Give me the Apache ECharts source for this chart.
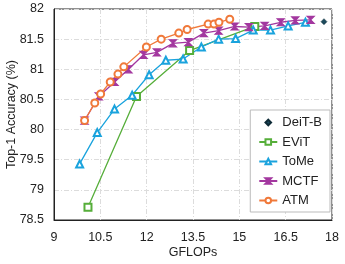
<!DOCTYPE html>
<html><head><meta charset="utf-8">
<script src="https://cdn.jsdelivr.net/npm/echarts@6/dist/echarts.min.js"></script>
<style>html,body{margin:0;padding:0;background:#fff}#c{width:345px;height:264px}</style>
</head><body><div id="c"></div>
<script>
const xTicks = [9, 10.5, 12, 13.5, 15, 16.5, 18];
const yTicks = [78.5, 79, 79.5, 80, 80.5, 81, 81.5, 82];
const deitB = [[17.74, 81.79]];
const evit = [[10.10, 78.71], [11.67, 80.55], [13.39, 81.31], [15.50, 81.71]];
const tome = [[9.83, 79.43], [10.40, 79.95], [10.96, 80.34], [11.53, 80.57], [12.08, 80.91], [12.62, 81.15], [13.18, 81.17], [13.77, 81.37], [14.33, 81.50], [14.88, 81.51], [15.45, 81.65], [16.01, 81.65], [16.58, 81.72], [17.14, 81.78]];
const mctf = [[9.99, 80.15], [10.45, 80.55], [10.96, 80.79], [11.41, 81.00], [11.90, 81.24], [12.33, 81.28], [12.85, 81.43], [13.35, 81.45], [13.85, 81.60], [14.33, 81.64], [14.85, 81.71], [15.31, 81.70], [15.82, 81.72], [16.34, 81.78], [16.81, 81.81], [17.31, 81.82]];
const atm = [[9.99, 80.15], [10.32, 80.44], [10.51, 80.59], [10.82, 80.79], [11.07, 80.92], [11.26, 81.04], [11.99, 81.37], [12.47, 81.50], [13.04, 81.60], [13.31, 81.66], [13.99, 81.75], [14.18, 81.75], [14.34, 81.78], [14.69, 81.83]];

const font = 'Liberation Sans, Arial, sans-serif';
const gridLine = {show: true, lineStyle: {color: '#dcdcdc', type: [5, 2, 1, 2], width: 1}};
const chart = echarts.init(document.getElementById('c'), null, {renderer: 'canvas'});
const bowtie = 'path://M0,0 L10,0 L5,5 L10,10 L0,10 L5,5 Z';
function lineSeries(name, data, color, symbol, size) {
  return {name, type: 'line', data, symbol, symbolSize: size, showSymbol: true,
    lineStyle: {color, width: 1.3}, itemStyle: {color, borderColor: color, borderWidth: 1.2},
    z: 3, animation: false};
}
chart.setOption({
  animation: false,
  grid: {left: 54, right: 13, top: 9, bottom: 44, show: true, borderColor: '#222', borderWidth: 1,
    outerBoundsMode: 'none', containLabel: false},
  xAxis: {type: 'value', min: xTicks[0], max: xTicks[xTicks.length - 1], interval: 1.5,
    name: 'GFLOPs', nameLocation: 'middle', nameGap: 26, nameMoveOverlap: false,
    nameTextStyle: {fontFamily: font, fontSize: 12.5, color: '#222'},
    axisLine: {lineStyle: {color: '#222'}}, axisTick: {show: false},
    axisLabel: {fontFamily: font, fontSize: 12.5, color: '#222', margin: 11},
    splitLine: gridLine},
  yAxis: {type: 'value', min: yTicks[0], max: yTicks[yTicks.length - 1], interval: 0.5,
    name: 'Top-1 Accuracy (%)', nameLocation: 'middle', nameGap: 36, nameMoveOverlap: false,
    nameTextStyle: {fontFamily: font, fontSize: 12.5, color: '#222'},
    axisLine: {show: true, lineStyle: {color: '#222'}}, axisTick: {show: false},
    axisLabel: {fontFamily: font, fontSize: 12.5, color: '#222', margin: 10},
    splitLine: gridLine},
  legend: {orient: 'vertical', right: 15, bottom: 52, itemGap: 6.5, itemWidth: 18, itemHeight: 7,
    backgroundColor: '#fff', borderColor: '#bbb', borderWidth: 1, padding: [6, 8, 5, 8],
    textStyle: {fontFamily: font, fontSize: 13, color: '#222'},
    data: ['DeiT-B', 'EViT', 'ToMe', 'MCTF', 'ATM']},
  series: [
    {name: 'DeiT-B', type: 'line', data: deitB, symbol: 'diamond', symbolSize: 6, showSymbol: true,
      lineStyle: {opacity: 0, width: 0},
      itemStyle: {color: '#1c4a5c', borderColor: '#0d2a36', borderWidth: 0.5}, z: 4},
    lineSeries('EViT', evit, '#56ae3a', 'emptyRect', 7),
    lineSeries('ToMe', tome, '#1aa3dd', 'emptyTriangle', 7),
    lineSeries('MCTF', mctf, '#a3379f', bowtie, 7),
    lineSeries('ATM', atm, '#f0793a', 'emptyCircle', 7)
  ]
});
</script></body></html>
